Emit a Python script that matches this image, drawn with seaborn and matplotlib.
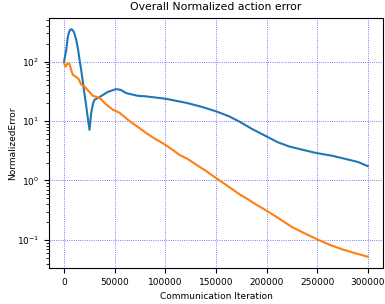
import pandas as pd
import seaborn as sns
import numpy as np
import matplotlib
matplotlib.use("Agg")
import matplotlib.pyplot as plt

# values
iter_a = [0, 1000, 2100, 3700, 5000, 6200, 7200, 8500, 10000, 12000, 13800, 15300,
          17000, 18500, 20200, 21900, 23500, 25100, 26800, 28500, 30000, 35000,
          43200, 51500, 56000, 61300, 72800, 81000, 99800, 120500, 135000, 150000,
          163000, 173000, 186000, 200000, 211000, 222000, 235000, 249000,
          265000, 278000, 290000, 300000]
err_a = [100, 125, 157, 262, 320, 345, 350, 340, 305, 231, 160, 107,
         70, 46, 28, 17.7, 11, 7.1, 13.8, 19.5, 22.8, 25.3,
         31, 34.5, 33.5, 29.5, 26.6, 26, 23.8, 20.3, 17.5, 14.6,
         12, 9.8, 7.3, 5.5, 4.4, 3.75, 3.3, 2.9,
         2.6, 2.3, 2.05, 1.74]

iter_b = [0, 1500, 3500, 5500, 7000, 8700, 11300, 14000, 17000, 20200, 23500,
          28400, 35000, 41600, 48100, 54700, 64600, 74500, 81000, 90000, 99800,
          107000, 113900, 122000, 130300, 140000, 150000, 160000, 170000, 175000,
          180000, 190000, 200000, 212000, 225000, 237000, 250000, 262000,
          275000, 287000, 300000]
err_b = [94, 82, 94, 90, 72, 60, 56, 52, 41, 38, 33,
         26.6, 24.6, 19, 15.5, 13.8, 10, 7.6, 6.3, 5.0, 4.0,
         3.3, 2.7, 2.3, 1.85, 1.45, 1.1, 0.84, 0.64, 0.56,
         0.5, 0.39, 0.31, 0.23, 0.165, 0.13, 0.102, 0.083,
         0.069, 0.06, 0.052]

df_a = pd.DataFrame({"iter": iter_a, "err": err_a})
df_b = pd.DataFrame({"iter": iter_b, "err": err_b})

plt.rcParams["font.size"] = 7
fig, ax = plt.subplots(figsize=(3.85, 3.04), dpi=100)
fig.subplots_adjust(left=0.127, right=0.995, bottom=0.118, top=0.941)

sns.lineplot(data=df_a, x="iter", y="err", ax=ax, color="#1f77b4", linewidth=1.5)
sns.lineplot(data=df_b, x="iter", y="err", ax=ax, color="#ff7f0e", linewidth=1.5)

ax.set_yscale("log")
ax.set_xticks([0, 50000, 100000, 150000, 200000, 250000, 300000])
ax.set_xticklabels(["0", "50000", "100000", "150000", "200000", "250000", "300000"])
ax.grid(True, color="blue", linestyle=":", linewidth=0.6, alpha=0.7)
ax.set_title("Overall Normalized action error", fontsize=7.8)
ax.set_xlabel("Communication Iteration", fontsize=6.5)
ax.set_ylabel("NormalizedError", fontsize=6.5, labelpad=0)
ax.tick_params(labelsize=6.5)

plt.savefig("out.png", dpi=100)
